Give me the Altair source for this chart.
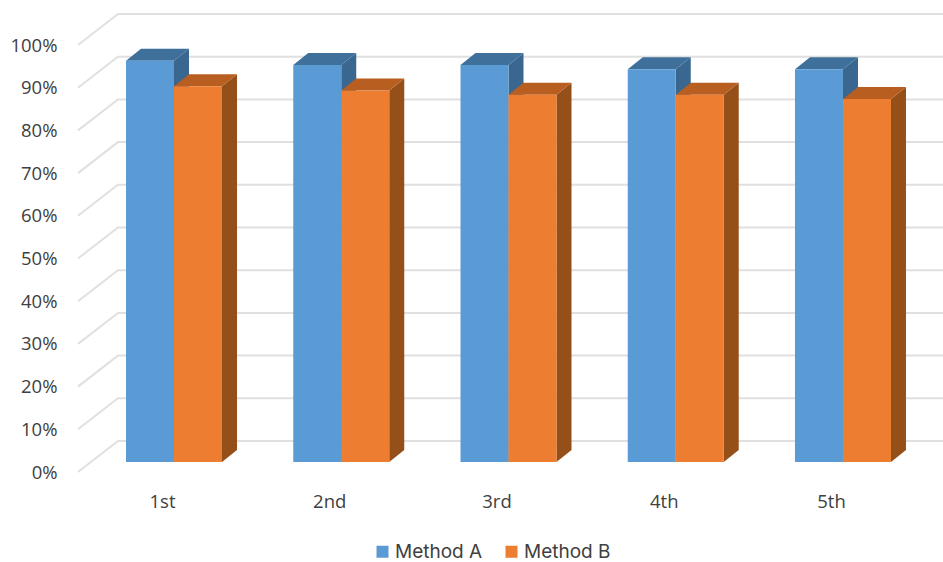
import altair as alt
import pandas as pd

# Survey rounds and the score of each method, in percent
rounds = ["1st", "2nd", "3rd", "4th", "5th"]
method_a = [94, 93, 93, 92, 92]
method_b = [88, 87, 86, 86, 85]
levels = list(range(0, 101, 10))

FONT = "Open Sans"
LEGEND_FONT = "Inter"
TEXT = "#404040"
GRID = "#E0E0E0"

# Extent of the horizontal scale, in round units (round i is centred on i)
X_MIN, X_MAX = -0.574, 4.598
BAR_W = 0.287          # width of one bar
DEPTH_X = 0.0897       # horizontal depth of a bar
DEPTH_Y = 2.81         # vertical depth of a bar, in percentage points
FRONT_Y = 2.34         # lift of the bars' front plane above the axis plane
WALL_X = 0.239         # horizontal shift of the back wall
WALL_Y = 7.26          # vertical lift of the back wall

x_scale = alt.Scale(domain=[X_MIN, X_MAX], nice=False, zero=False)
y_scale = alt.Scale(domain=[0, 100], nice=False, zero=False)
x_enc = alt.X(
    "x:Q",
    scale=x_scale,
    title=None,
    axis=alt.Axis(
        values=list(range(len(rounds))),
        labelExpr="['1st','2nd','3rd','4th','5th'][datum.value]",
        domain=False,
        ticks=False,
        grid=False,
        labelFont=FONT,
        labelFontSize=18.5,
        labelColor=TEXT,
        labelPadding=20,
        labelOffset=-12,
    ),
)
y_enc = alt.Y(
    "y:Q",
    scale=y_scale,
    title=None,
    axis=alt.Axis(
        values=levels,
        labelExpr="datum.value + '%'",
        domain=False,
        ticks=False,
        grid=False,
        labelFont=FONT,
        labelFontSize=18.5,
        labelColor=TEXT,
        labelPadding=21,
    ),
)

# Back wall and floor lines
grid_rows = []
for level in levels:
    for x, y in [
        (X_MIN, level),
        (X_MIN + WALL_X, level + WALL_Y),
        (X_MAX, level + WALL_Y),
    ]:
        grid_rows.append({"level": level, "x": x, "y": y})
grid = (
    alt.Chart(pd.DataFrame(grid_rows))
    .mark_line(color=GRID, strokeWidth=2)
    .encode(x=x_enc, y=y_enc, detail="level:N")
)

series = [
    ("Method A", method_a, -BAR_W, "#3E709B", "#396790"),
    ("Method B", method_b, 0.0, "#B85E20", "#95501A"),
]

layers = [grid]
front_rows = []
for name, values, shift, top_colour, side_colour in series:
    side_rows, top_rows = [], []
    for i, value in enumerate(values):
        left = i + shift
        right = left + BAR_W
        front_rows.append(
            {"round": i, "method": name, "x": left, "x2": right,
             "y": value + FRONT_Y, "y2": FRONT_Y}
        )
        # Right-hand face: two vertical edges, one at the front, one at the back
        side_rows += [
            {"round": i, "x": right, "y": value + FRONT_Y, "y2": FRONT_Y},
            {"round": i, "x": right + DEPTH_X, "y": value + FRONT_Y + DEPTH_Y,
             "y2": FRONT_Y + DEPTH_Y},
        ]
        # Top face: two horizontal edges, one at the front, one at the back
        top_rows += [
            {"round": i, "y": value + FRONT_Y, "x": left, "x2": right},
            {"round": i, "y": value + FRONT_Y + DEPTH_Y, "x": left + DEPTH_X,
             "x2": right + DEPTH_X},
        ]
    layers.append(
        alt.Chart(pd.DataFrame(side_rows))
        .mark_area(color=side_colour, orient="vertical")
        .encode(x=x_enc, y=y_enc, y2="y2:Q", detail="round:N")
    )
    layers.append(
        alt.Chart(pd.DataFrame(top_rows))
        .mark_area(color=top_colour, orient="horizontal")
        .encode(x=x_enc, x2="x2:Q", y=y_enc, detail="round:N")
    )

# Front faces carry the legend
front = (
    alt.Chart(pd.DataFrame(front_rows))
    .mark_rect()
    .encode(
        x=x_enc,
        x2="x2:Q",
        y=y_enc,
        y2="y2:Q",
        color=alt.Color(
            "method:N",
            scale=alt.Scale(domain=["Method A", "Method B"], range=["#5B9BD5", "#ED7D31"]),
            legend=alt.Legend(
                title=None,
                orient="none",
                direction="horizontal",
                legendX=295,
                legendY=497,
                symbolType="square",
                symbolSize=144,
                symbolStrokeWidth=0,
                labelFont=LEGEND_FONT,
                labelFontSize=19,
                labelOffset=3,
                labelColor=TEXT,
                columnPadding=19,
            ),
        ),
    )
)
layers.append(front)

chart = (
    alt.layer(*layers)
    .properties(
        width=865,
        height=427,
        padding={"left": 78, "top": 45, "right": 0, "bottom": 90},
        autosize=alt.AutoSizeParams(type="none"),
        background="white",
    )
    .configure_view(stroke=None)
)

chart.save("out.html", embed_options={"renderer": "svg", "actions": False})
